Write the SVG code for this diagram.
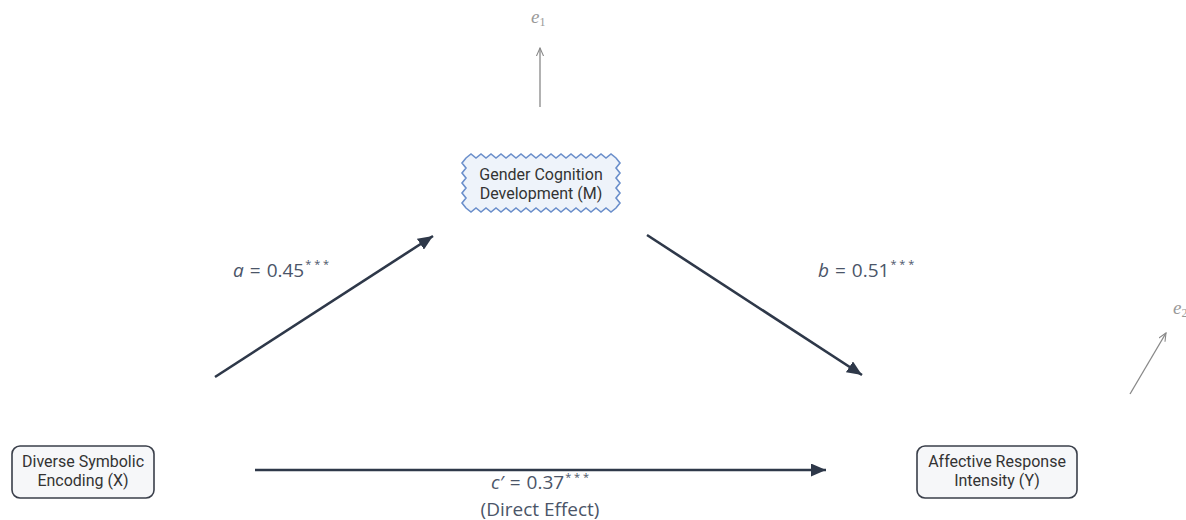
<svg xmlns="http://www.w3.org/2000/svg" width="1186" height="520" viewBox="0 0 1186 520">
<defs>
<marker id="ah" viewBox="0 0 15 13" refX="15" refY="6.5" markerWidth="15" markerHeight="13" markerUnits="userSpaceOnUse" orient="auto">
<path d="M0,0 L15,6.5 L0,13 Z" fill="#2e3849"/>
</marker>
<marker id="ahs" viewBox="0 0 10 8" refX="9" refY="4" markerWidth="9" markerHeight="8" markerUnits="userSpaceOnUse" orient="auto">
<path d="M0,0 L9,4 L0,8" fill="none" stroke="#888" stroke-width="1.2"/>
</marker>
</defs>
<style>
.node{fill:#f6f7f9;stroke:#3a3f4a;stroke-width:1.6}
.nt{font-family:Roboto,"Liberation Sans",sans-serif;font-size:16px;fill:#333;text-anchor:middle}
.main{stroke:#2e3849;stroke-width:2.6;fill:none}
.err{stroke:#888;stroke-width:1.3;fill:none}
.lbl{font-family:"Open Sans","DejaVu Sans",sans-serif;font-size:19px;fill:#4b5568}
.it{font-style:italic}
.sup{font-size:11px}
.et{font-family:"Liberation Serif",serif;font-style:italic;font-size:19px;fill:#999}
</style>
<rect width="1186" height="520" fill="#ffffff"/>
<g id="connectors">
<line class="main" x1="215" y1="377" x2="433" y2="236" marker-end="url(#ah)"/>
<line class="main" x1="647" y1="235" x2="862" y2="375" marker-end="url(#ah)"/>
<line class="main" x1="255" y1="470" x2="826" y2="470" marker-end="url(#ah)"/>
<line class="err" x1="540" y1="107" x2="540" y2="48" marker-end="url(#ahs)"/>
<line class="err" x1="1130" y1="394" x2="1166" y2="333" marker-end="url(#ahs)"/>
</g>
<g id="labels">
<text class="lbl" x="233" y="277"><tspan class="it">a</tspan><tspan dx="6">=</tspan><tspan dx="6">0.45</tspan><tspan class="sup" dx="1" dy="-9">* * *</tspan></text>
<text class="lbl" x="818" y="277"><tspan class="it">b</tspan><tspan dx="6">=</tspan><tspan dx="6">0.51</tspan><tspan class="sup" dx="1" dy="-9">* * *</tspan></text>
<text class="lbl" x="491" y="489" font-size="16"><tspan class="it">c′</tspan><tspan dx="6">=</tspan><tspan dx="6">0.37</tspan><tspan class="sup" dx="1" dy="-8">* * *</tspan></text>
<text class="lbl" x="540" y="516" text-anchor="middle" font-size="13">(Direct Effect)</text>
<text class="et" x="531" y="23">e<tspan font-size="12" font-style="normal" dy="3">1</tspan></text>
<text class="et" x="1173" y="314">e<tspan font-size="12" font-style="normal" dy="3">2</tspan></text>
</g>
<g id="node-X">
<rect class="node" x="12" y="446" width="142" height="52" rx="8"/>
<text class="nt" x="83" y="467">Diverse Symbolic</text>
<text class="nt" x="83" y="486">Encoding (X)</text>
</g>
<g id="node-Y">
<rect class="node" x="917" y="446" width="160" height="52" rx="8"/>
<text class="nt" x="997" y="467">Affective Response</text>
<text class="nt" x="997" y="486">Intensity (Y)</text>
</g>
<g id="node-M">
<path fill="#eef3fa" stroke="#6b8fcb" stroke-width="1.6" stroke-linejoin="miter" d="M466,158 l5,-4 5,4 5,-4 5,4 5,-4 5,4 5,-4 5,4 5,-4 5,4 5,-4 5,4 5,-4 5,4 5,-4 5,4 5,-4 5,4 5,-4 5,4 5,-4 5,4 5,-4 5,4 5,-4 5,4 5,-4 5,4 5,-4 5,4 l4,5 -4,5 4,5 -4,5 4,5 -4,5 4,5 -4,5 4,5 -4,5 l-5,4 -5,-4 -5,4 -5,-4 -5,4 -5,-4 -5,4 -5,-4 -5,4 -5,-4 -5,4 -5,-4 -5,4 -5,-4 -5,4 -5,-4 -5,4 -5,-4 -5,4 -5,-4 -5,4 -5,-4 -5,4 -5,-4 -5,4 -5,-4 -5,4 -5,-4 -5,4 -5,-4 l-4,-5 4,-5 -4,-5 4,-5 -4,-5 4,-5 -4,-5 4,-5 -4,-5 4,-5 Z"/>
<text class="nt" x="541" y="180">Gender Cognition</text>
<text class="nt" x="541" y="199">Development (M)</text>
</g>
</svg>
